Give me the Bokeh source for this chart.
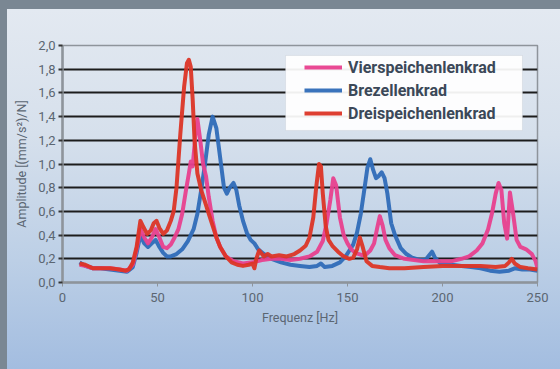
from bokeh.plotting import figure
from bokeh.models import (Range1d, FixedTicker, Legend, LegendItem, BoxAnnotation)
from bokeh.embed import file_html
from bokeh.resources import INLINE

# ---------------- data ----------------
x_ticks = [0, 50, 100, 150, 200, 250]
y_ticks = [0.0, 0.2, 0.4, 0.6, 0.8, 1.0, 1.2, 1.4, 1.6, 1.8, 2.0]
y_tick_labels = ["0,0", "0,2", "0,4", "0,6", "0,8", "1,0", "1,2", "1,4", "1,6", "1,8", "2,0"]

series_names = ["Vierspeichenlenkrad", "Brezellenkrad", "Dreispeichenlenkrad"]

f_vier = [9, 12, 16, 20, 25, 30, 34, 37, 39, 41, 43, 45, 47, 49, 51, 53, 55, 57, 59, 61,
          63, 65, 66.5, 67.5, 68.5, 70, 71, 72.5, 74, 75.5, 77, 79, 81, 83, 86, 90, 95, 100, 105, 110,
          115, 120, 125, 130, 134, 137, 139, 141, 142.5, 144, 146, 148, 150, 152, 154, 156, 158, 160, 162, 164,
          165.5, 167, 168.5, 170, 172, 175, 180, 185, 190, 195, 200, 205, 210, 214, 218, 221, 224, 226, 228, 229.5,
          231, 232.5, 234, 235.5, 237, 239, 241, 244, 247, 249, 250]
a_vier = [0.15, 0.14, 0.12, 0.12, 0.12, 0.11, 0.10, 0.15, 0.28, 0.45, 0.38, 0.33, 0.38, 0.45, 0.38, 0.30, 0.29, 0.32, 0.38, 0.45,
          0.58, 0.78, 0.92, 1.02, 0.98, 1.25, 1.38, 1.20, 1.00, 0.90, 0.72, 0.52, 0.38, 0.30, 0.22, 0.18, 0.16, 0.17, 0.19, 0.20,
          0.20, 0.19, 0.20, 0.22, 0.26, 0.35, 0.50, 0.70, 0.88, 0.82, 0.55, 0.40, 0.33, 0.28, 0.25, 0.24, 0.23, 0.24, 0.27, 0.33,
          0.45, 0.56, 0.48, 0.36, 0.29, 0.23, 0.20, 0.19, 0.18, 0.18, 0.18, 0.18, 0.20, 0.22, 0.27, 0.33, 0.45, 0.58, 0.75, 0.84,
          0.78, 0.50, 0.37, 0.76, 0.60, 0.36, 0.30, 0.28, 0.24, 0.18, 0.12]

f_brezel = [9, 12, 16, 20, 25, 30, 34, 37, 39, 41, 43, 45, 47, 49, 51, 53, 55, 57, 60, 63,
            66, 69, 71, 73, 75, 77, 79, 81, 83, 85, 86.5, 88, 90, 91.5, 93, 95, 97, 99, 101, 103,
            106, 110, 115, 120, 125, 130, 134, 136, 138, 142, 146, 149, 151, 153, 155, 157, 159, 160.5, 162, 163.5,
            165, 166.5, 168, 169.5, 171, 173, 175, 178, 181, 184, 188, 191, 193, 194.5, 196, 199, 205, 210, 215, 220,
            225, 230, 235, 238, 242, 246, 250]
a_brezel = [0.17, 0.14, 0.12, 0.12, 0.11, 0.10, 0.09, 0.13, 0.25, 0.40, 0.33, 0.30, 0.33, 0.36, 0.30, 0.25, 0.22, 0.22, 0.24, 0.28,
            0.35, 0.45, 0.58, 0.78, 1.00, 1.25, 1.40, 1.30, 1.05, 0.80, 0.75, 0.80, 0.84, 0.78, 0.65, 0.52, 0.42, 0.36, 0.33, 0.28,
            0.24, 0.20, 0.17, 0.15, 0.14, 0.13, 0.14, 0.16, 0.13, 0.14, 0.17, 0.22, 0.27, 0.32, 0.42, 0.58, 0.80, 0.97, 1.04, 0.95,
            0.88, 0.90, 0.93, 0.88, 0.75, 0.50, 0.40, 0.29, 0.24, 0.21, 0.19, 0.19, 0.23, 0.26, 0.21, 0.16, 0.15, 0.14, 0.13, 0.12,
            0.10, 0.09, 0.10, 0.12, 0.11, 0.11, 0.10]

f_drei = [9, 12, 16, 20, 25, 30, 33, 35, 37, 39, 41, 42.5, 44.5, 46.5, 48, 49.5, 51, 53, 55, 57,
          58.5, 60, 62, 64, 65.5, 66.5, 67.5, 68.5, 69.5, 71, 73, 75, 77, 79, 81, 83, 86, 89, 92, 95,
          98, 100, 101, 102, 103.5, 106, 108, 110, 114, 118, 122, 125, 128, 130, 132, 133.5, 135, 136, 137, 138.5,
          140, 142, 145, 148, 151, 153, 155, 156.5, 158, 160, 163, 167, 172, 180, 190, 200, 210, 220, 228, 233,
          235, 236.5, 238, 241, 245, 250]
a_drei = [0.16, 0.15, 0.12, 0.12, 0.12, 0.11, 0.10, 0.11, 0.17, 0.30, 0.52, 0.47, 0.41, 0.44, 0.50, 0.52, 0.46, 0.41, 0.44, 0.52,
          0.60, 0.80, 1.25, 1.65, 1.85, 1.88, 1.82, 1.55, 1.20, 0.92, 0.78, 0.68, 0.58, 0.48, 0.38, 0.30, 0.22, 0.17, 0.15, 0.14,
          0.15, 0.16, 0.12, 0.20, 0.27, 0.22, 0.24, 0.22, 0.23, 0.22, 0.24, 0.27, 0.31, 0.38, 0.55, 0.80, 1.00, 0.98, 0.75, 0.48,
          0.36, 0.31, 0.26, 0.22, 0.20, 0.21, 0.28, 0.38, 0.30, 0.18, 0.14, 0.13, 0.12, 0.12, 0.13, 0.14, 0.14, 0.14, 0.13, 0.14,
          0.17, 0.20, 0.16, 0.13, 0.12, 0.11]

colors = {"Vierspeichenlenkrad": "#e8408e", "Brezellenkrad": "#2f6cb8", "Dreispeichenlenkrad": "#dc3526"}

# legend panel extent (data units)
legend_box_x = (117.4, 242.1)
legend_box_y = (1.283, 1.916)

# ---------------- figure ----------------
FONT = "Roboto"
TXT = "#5b6672"

p = figure(frame_width=475, frame_height=237, output_backend="svg", toolbar_location=None,
           x_range=Range1d(0, 250), y_range=Range1d(0, 2),
           min_border_left=62, min_border_right=23, min_border_top=45, min_border_bottom=87)
p.background_fill_color = None
p.border_fill_color = None
p.outline_line_color = "#8e949b"
p.outline_line_width = 1.5
p.styles = {
    "background-color": "#7a8793",
    "background-image": "linear-gradient(to bottom, #e3e9f1 0%, #d6e0ec 35%, #bccfe6 70%, #a3bde0 100%)",
    "background-position": "7px 9px",
    "background-size": "553px 360px",
    "background-repeat": "no-repeat",
}

# axes
p.xaxis.ticker = FixedTicker(ticks=x_ticks)
p.yaxis.ticker = FixedTicker(ticks=y_ticks)
p.yaxis.major_label_overrides = {t: l for t, l in zip(y_ticks, y_tick_labels)}
p.xaxis.axis_label = "Frequenz [Hz]"
p.yaxis.axis_label = "Amplitude [(mm/s²)/N]"
for ax in (p.xaxis[0], p.yaxis[0]):
    ax.axis_line_color = "#8e949b"
    ax.axis_line_width = 2.5
    ax.minor_tick_line_color = None
    ax.major_tick_in = 0
    ax.major_tick_out = 4
    ax.major_label_text_font = FONT
    ax.major_label_text_font_size = "13px"
    ax.major_label_text_color = TXT
    ax.axis_label_text_font = FONT
    ax.axis_label_text_font_size = "12.5px"
    ax.axis_label_text_font_style = "normal"
    ax.axis_label_text_color = TXT
p.xaxis.major_tick_line_color = "#8e949b"
p.yaxis.major_tick_line_color = "#333333"
p.yaxis.major_tick_line_width = 2
p.xaxis.major_label_standoff = 6
p.yaxis.major_label_standoff = 3
p.xaxis.axis_label_standoff = 5
p.yaxis.axis_label_standoff = 6

# grid
p.xgrid.grid_line_color = None
p.ygrid.ticker = FixedTicker(ticks=y_ticks[1:-1])
p.ygrid.grid_line_color = "#1c1c1c"
p.ygrid.grid_line_width = 2

# lines (blue below, pink, red on top)
r_brezel = p.line(f_brezel, a_brezel, line_color=colors["Brezellenkrad"], line_width=4, line_alpha=0.95,
                  line_join="round")
r_vier = p.line(f_vier, a_vier, line_color=colors["Vierspeichenlenkrad"], line_width=4, line_alpha=0.95,
                line_join="round")
r_drei = p.line(f_drei, a_drei, line_color=colors["Dreispeichenlenkrad"], line_width=4, line_alpha=0.95,
                line_join="round")

# legend panel
box = BoxAnnotation(left=legend_box_x[0], right=legend_box_x[1], bottom=legend_box_y[0], top=legend_box_y[1],
                    fill_color="#ffffff", fill_alpha=0.93, line_color="#b8c0c9", line_width=1)
p.add_layout(box)

legend = Legend(items=[LegendItem(label=series_names[0], renderers=[r_vier]),
                       LegendItem(label=series_names[1], renderers=[r_brezel]),
                       LegendItem(label=series_names[2], renderers=[r_drei])],
                location=(242, 159), padding=0, margin=0, spacing=3,
                glyph_width=38, glyph_height=20, label_height=20, label_standoff=6,
                background_fill_alpha=0, border_line_alpha=0,
                label_text_font=FONT, label_text_font_size="16px", label_text_font_style="bold",
                label_text_color="#3b4858")
p.add_layout(legend)

open("out.html", "w").write(file_html(p, INLINE))
